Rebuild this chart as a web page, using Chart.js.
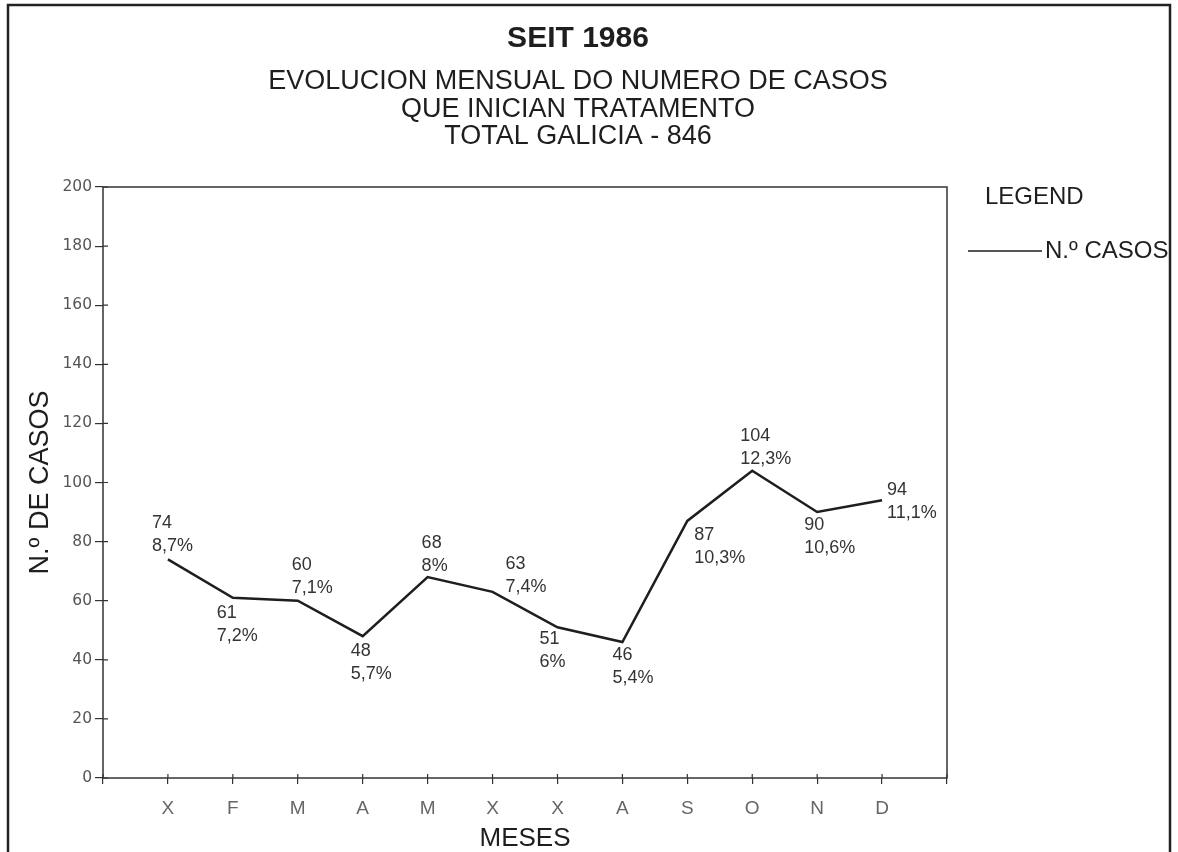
<!DOCTYPE html>
<html>
<head>
<meta charset="utf-8">
<title>SEIT 1986</title>
<script src="https://cdn.jsdelivr.net/npm/chart.js@4.4.1/dist/chart.umd.min.js"></script>
<style>
  html, body { margin: 0; padding: 0; background: #fff; }
</style>
</head>
<body>
<canvas id="myChart" width="1178" height="852"></canvas>
<script>
const meses = ['X', 'F', 'M', 'A', 'M', 'X', 'X', 'A', 'S', 'O', 'N', 'D'];
const casos = [74, 61, 60, 48, 68, 63, 51, 46, 87, 104, 90, 94];
const porcentaxes = ['8,7%', '7,2%', '7,1%', '5,7%', '8%', '7,4%', '6%', '5,4%', '10,3%', '12,3%', '10,6%', '11,1%'];
const yMin = 0, yMax = 200, yPaso = 20;

const titulo = 'SEIT 1986';
const subtitulo = ['EVOLUCION MENSUAL DO NUMERO DE CASOS', 'QUE INICIAN TRATAMENTO', 'TOTAL GALICIA - 846'];
const serieNome = 'N.º CASOS';

// onde vai cada etiqueta respecto do seu punto (dx, dy)
const posEtiqueta = [[-16, -36], [-16, 15], [-6, -36], [-12, 15], [-6, -34], [13, -28],
                     [-18, 12], [-10, 13], [7, 14], [-12, -35], [-13, 13], [5, -10]];

const fonte = '"Liberation Sans", Arial, Helvetica, sans-serif';
const tinta = '#1e1e1e';

const debuxoExtra = {
    id: 'debuxoExtra',
    beforeDraw(chart) {
        const ctx = chart.ctx;
        ctx.save();
        ctx.fillStyle = '#fff';
        ctx.fillRect(0, 0, chart.width, chart.height);
        ctx.restore();
    },
    afterDatasetsDraw(chart) {
        const ctx = chart.ctx;
        const meta = chart.getDatasetMeta(0);
        ctx.save();
        ctx.font = '18px ' + fonte;
        ctx.fillStyle = '#333';
        ctx.textAlign = 'left';
        ctx.textBaseline = 'middle';
        meta.data.forEach((pt, i) => {
            const [dx, dy] = posEtiqueta[i];
            ctx.fillText(String(casos[i]), pt.x + dx, pt.y + dy);
            ctx.fillText(porcentaxes[i], pt.x + dx, pt.y + dy + 23);
        });
        ctx.restore();
    },
    afterDraw(chart) {
        const ctx = chart.ctx;
        const {left, right, top, bottom} = chart.chartArea;
        const xs = chart.scales.x, ys = chart.scales.y;
        ctx.save();

        // marco exterior
        ctx.strokeStyle = '#222';
        ctx.lineWidth = 2.5;
        ctx.strokeRect(8, 5, chart.width - 16, chart.height + 20);

        // caixa da gráfica
        ctx.lineWidth = 1.5;
        ctx.strokeStyle = '#333';
        ctx.strokeRect(left, top, right - left, bottom - top);

        // marcas cara dentro
        ctx.lineWidth = 1.2;
        ctx.beginPath();
        ys.ticks.forEach(t => {
            const y = ys.getPixelForValue(t.value);
            ctx.moveTo(left, y);
            ctx.lineTo(left + 5, y);
        });
        xs.ticks.forEach(t => {
            const x = xs.getPixelForValue(t.value);
            ctx.moveTo(x, bottom);
            ctx.lineTo(x, bottom - 4);
        });
        ctx.stroke();

        // títulos
        const cx = 578;
        ctx.fillStyle = tinta;
        ctx.textAlign = 'center';
        ctx.textBaseline = 'middle';
        ctx.font = 'bold 30px ' + fonte;
        ctx.fillText(titulo, cx, 39);
        ctx.font = '27px ' + fonte;
        subtitulo.forEach((linea, i) => ctx.fillText(linea, cx, 82 + i * 27.5));

        // lenda
        const ds = chart.data.datasets[0];
        ctx.textAlign = 'left';
        ctx.font = '24px ' + fonte;
        ctx.fillText('LEGEND', right + 38, top + 10);
        ctx.strokeStyle = ds.borderColor;
        ctx.lineWidth = 1.5;
        ctx.beginPath();
        ctx.moveTo(right + 21, top + 64);
        ctx.lineTo(right + 95, top + 64);
        ctx.stroke();
        ctx.fillText(ds.label, right + 98, top + 64);

        ctx.restore();
    }
};

const ctx = document.getElementById('myChart').getContext('2d');
new Chart(ctx, {
    type: 'line',
    data: {
        datasets: [{
            label: serieNome,
            data: casos.map((v, i) => ({x: i + 1, y: v})),
            borderColor: tinta,
            borderWidth: 2.5,
            pointRadius: 0,
            tension: 0,
            fill: false
        }]
    },
    options: {
        responsive: false,
        animation: false,
        layout: {padding: {top: 187, right: 231, left: 0, bottom: 0}},
        plugins: {
            legend: {display: false},
            tooltip: {enabled: false}
        },
        scales: {
            x: {
                type: 'linear',
                min: 0,
                max: meses.length + 1,
                border: {display: false},
                grid: {drawOnChartArea: false, tickLength: 6, color: '#333', lineWidth: 1.2},
                ticks: {
                    stepSize: 1,
                    maxTicksLimit: 30,
                    autoSkip: false,
                    maxRotation: 0,
                    padding: 13,
                    color: '#666',
                    font: {family: fonte, size: 19},
                    callback: v => meses[v - 1] ?? ''
                },
                title: {
                    display: true,
                    text: 'MESES',
                    color: tinta,
                    font: {family: fonte, size: 26, lineHeight: 1},
                    padding: {top: 0, bottom: 0}
                },
                afterFit(scale) { scale.height = 74; }
            },
            y: {
                min: yMin,
                max: yMax,
                border: {display: false},
                grid: {drawOnChartArea: false, tickLength: 8, color: '#333', lineWidth: 1.2},
                ticks: {
                    stepSize: yPaso,
                    padding: 3,
                    color: '#555',
                    font: {family: '"DejaVu Sans", sans-serif', size: 15.5}
                },
                title: {
                    display: true,
                    text: 'N.º DE CASOS',
                    color: tinta,
                    font: {family: fonte, size: 27, lineHeight: 1},
                    padding: {top: 27, bottom: 0}
                },
                afterFit(scale) { scale.width = 103; }
            }
        }
    },
    plugins: [debuxoExtra]
});
</script>
</body>
</html>
